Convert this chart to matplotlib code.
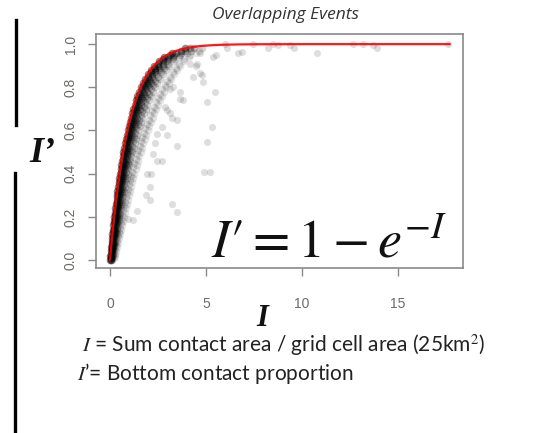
import numpy as np
import matplotlib
matplotlib.use("Agg")
import matplotlib.pyplot as plt

nan = float("nan")
# dense band: one I' level per row, several I values per level
band_Ip = [0.00, 0.02, 0.04, 0.06, 0.08, 0.10, 0.12, 0.14, 0.16, 0.18,
           0.20, 0.22, 0.24, 0.26, 0.28, 0.30, 0.32, 0.34, 0.36, 0.38,
           0.40, 0.42, 0.44, 0.46, 0.48, 0.50, 0.52, 0.54, 0.56, 0.58,
           0.60, 0.62, 0.64, 0.66, 0.68, 0.70, 0.72, 0.74, 0.76, 0.78,
           0.80, 0.82, 0.84, 0.86, 0.88, 0.90, 0.92, 0.94, 0.96, 0.98]
band_I0 = [0.00, 0.02, 0.04, 0.07, 0.09, 0.11, 0.13, 0.16, 0.18, 0.20,
           0.23, 0.25, 0.28, 0.31, 0.34, 0.36, 0.39, 0.42, 0.45, 0.48,
           0.52, 0.55, 0.59, 0.62, 0.66, 0.70, 0.74, 0.78, 0.83, 0.87,
           0.92, 0.97, 1.03, 1.08, 1.14, 1.21, 1.28, 1.35, 1.43, 1.52,
           1.61, 1.72, 1.84, 1.97, 2.13, 2.31, 2.53, 2.82, 3.22, 3.92]
band_I1 = [0.03, 0.06, 0.09, 0.11, 0.14, 0.16, 0.19, 0.22, 0.24, 0.27,
           0.30, 0.33, 0.36, 0.39, 0.42, 0.45, 0.48, 0.51, 0.55, 0.58,
           0.62, 0.66, 0.70, 0.74, 0.78, 0.82, 0.87, 0.91, 0.96, 1.01,
           1.07, 1.12, 1.18, 1.24, 1.31, 1.38, 1.45, 1.53, 1.61, 1.70,
           1.80, 1.91, 2.03, 2.17, 2.33, 2.51, 2.74, 3.03, 3.44, 4.15]
band_I2 = [0.07, 0.10, 0.13, 0.16, 0.19, 0.22, 0.25, 0.28, 0.31, 0.34,
           0.37, 0.40, 0.44, 0.47, 0.51, 0.54, 0.58, 0.61, 0.65, 0.69,
           0.73, 0.77, 0.82, 0.86, 0.91, 0.95, 1.00, 1.05, 1.11, 1.16,
           1.22, 1.28, 1.35, 1.41, 1.48, 1.56, 1.64, 1.72, 1.81, 1.91,
           2.01, 2.12, 2.25, 2.39, 2.55, 2.74, 2.97, 3.26, 3.68, 4.40]
band_I3 = [0.12, 0.16, 0.20, 0.23, 0.27, 0.31, 0.35, 0.39, 0.42, 0.46,
           0.49, 0.53, 0.57, 0.61, 0.65, 0.69, 0.73, 0.78, 0.82, 0.87,
           0.92, 0.96, 1.01, 1.06, 1.12, 1.17, 1.23, 1.29, 1.35, 1.41,
           1.48, 1.55, 1.62, 1.69, 1.77, 1.86, 1.95, 2.04, 2.14, 2.24,
           2.35, 2.47, 2.60, 2.74, 2.90, 3.08, 3.31, 3.60, 4.02, 4.80]
band_I4 = [nan, 0.26, 0.30, 0.36, 0.40, 0.46, 0.52, 0.57, 0.62, 0.68,
           0.72, 0.78, 0.83, 0.88, 0.93, 0.98, 1.04, 1.09, 1.15, 1.21,
           1.27, 1.33, 1.39, 1.46, 1.52, 1.59, 1.66, 1.73, 1.81, 1.89,
           1.97, 2.05, 2.14, 2.22, 2.31, 2.40, 2.50, 2.60, 2.70, 2.81,
           2.93, 3.05, 3.18, 3.32, 3.47, 3.64, 3.85, 4.12, 4.50, nan]

# second set of band points, on the in-between I' levels
band2_Ip = [0.01, 0.03, 0.05, 0.07, 0.09, 0.11, 0.13, 0.15, 0.17, 0.19,
            0.21, 0.23, 0.25, 0.27, 0.29, 0.31, 0.33, 0.35, 0.37, 0.39,
            0.41, 0.43, 0.45, 0.47, 0.49, 0.51, 0.53, 0.55, 0.57, 0.59,
            0.61, 0.63, 0.65, 0.67, 0.69, 0.71, 0.73, 0.75, 0.77, 0.79,
            0.81, 0.83, 0.85, 0.87, 0.89, 0.91, 0.93, 0.95, 0.97]
band2_I0 = [0.03, 0.05, 0.08, 0.10, 0.13, 0.15, 0.18, 0.20, 0.22, 0.25,
            0.28, 0.31, 0.34, 0.37, 0.39, 0.42, 0.45, 0.48, 0.52, 0.55,
            0.59, 0.63, 0.66, 0.70, 0.74, 0.78, 0.83, 0.87, 0.92, 0.97,
            1.02, 1.08, 1.13, 1.19, 1.26, 1.33, 1.40, 1.48, 1.57, 1.66,
            1.76, 1.88, 2.00, 2.15, 2.32, 2.52, 2.78, 3.13, 3.68]
band2_I1 = [0.07, 0.10, 0.12, 0.15, 0.18, 0.21, 0.24, 0.26, 0.29, 0.32,
            0.35, 0.38, 0.42, 0.45, 0.48, 0.51, 0.55, 0.58, 0.62, 0.66,
            0.70, 0.74, 0.78, 0.82, 0.87, 0.91, 0.96, 1.01, 1.06, 1.12,
            1.17, 1.23, 1.30, 1.36, 1.43, 1.51, 1.59, 1.67, 1.76, 1.86,
            1.96, 2.08, 2.21, 2.36, 2.53, 2.74, 3.00, 3.35, 3.92]
band2_I2 = [0.11, 0.15, 0.18, 0.21, 0.25, 0.28, 0.32, 0.35, 0.38, 0.42,
            0.45, 0.49, 0.52, 0.56, 0.60, 0.64, 0.68, 0.72, 0.76, 0.80,
            0.85, 0.89, 0.94, 0.99, 1.04, 1.09, 1.14, 1.20, 1.26, 1.32,
            1.38, 1.45, 1.52, 1.59, 1.67, 1.75, 1.84, 1.93, 2.03, 2.13,
            2.24, 2.36, 2.50, 2.65, 2.82, 3.03, 3.29, 3.64, 4.23]
band2_I3 = [0.20, 0.24, 0.28, 0.32, 0.37, 0.42, 0.46, 0.51, 0.55, 0.59,
            0.63, 0.68, 0.73, 0.78, 0.83, 0.88, 0.93, 0.98, 1.03, 1.09,
            1.15, 1.21, 1.27, 1.33, 1.40, 1.47, 1.54, 1.61, 1.69, 1.77,
            1.85, 1.93, 2.02, 2.11, 2.20, 2.30, 2.40, 2.50, 2.61, 2.73,
            2.85, 2.98, 3.12, 3.27, 3.44, 3.62, 3.85, 4.15, 4.65]

# sparse outlying points (I, I')
out_I = [5.55, 5.47, 5.03, 4.69, 4.86, 3.82, 3.65, 3.13, 4.51, 5.30, 5.03, 2.95,
         3.21, 3.51, 5.21, 3.21, 3.47, 2.12, 2.08, 2.08, 1.42, 1.21, 2.69, 2.26,
         6.00, 6.68, 6.86, 7.45, 8.25, 8.50, 8.75, 9.40, 9.58, 10.8, 12.66, 13.2,
         13.7, 13.9, 17.6, 6.08, 5.37, 4.69, 4.50, 4.78, 3.65, 3.47, 3.13, 4.17,
         4.33, 3.28, 2.86, 2.69, 2.43, 2.34, 2.95, 2.43, 1.91, 1.86, 0.95, 4.90]
out_Ip = [0.949, 0.780, 0.730, 0.865, 0.825, 0.740, 0.747, 0.794, 0.910, 0.615, 0.546, 0.693,
          0.656, 0.527, 0.406, 0.259, 0.223, 0.399, 0.336, 0.278, 0.228, 0.186, 0.460, 0.490,
          1.000, 0.957, 0.964, 1.000, 0.980, 1.000, 0.995, 0.995, 0.980, 0.960, 1.000, 1.000,
          0.995, 0.980, 1.000, 0.980, 0.940, 0.958, 0.900, 0.856, 0.780, 0.647, 0.680, 0.910,
          0.850, 0.800, 0.710, 0.615, 0.585, 0.540, 0.577, 0.457, 0.400, 0.300, 0.190, 0.406]

x_ticks = [0, 5, 10, 15]
y_ticks = [0.0, 0.2, 0.4, 0.6, 0.8, 1.0]
y_ticklabels = ["0.0", "0.2", "0.4", "0.6", "0.8", "1.0"]
curve_max = 17.7

plt.rcParams["mathtext.fontset"] = "stix"

W, H = 538, 433
fig = plt.figure(figsize=(W / 100, H / 100), dpi=100)
ax = fig.add_axes([96 / W, 1 - 268 / H, (463 - 96) / W, (268 - 34) / H])

k = (0.0, 0.0, 0.0)
ax.scatter(out_I, out_Ip, s=26, color=k, alpha=0.13, linewidths=0)
for cols, a in [(band_I4, 0.10), (band_I3, 0.16), (band_I2, 0.24), (band_I1, 0.34), (band_I0, 0.45)]:
    ax.scatter(cols, band_Ip, s=30, color=k, alpha=a, linewidths=0)
for cols, a in [(band2_I3, 0.12), (band2_I2, 0.2), (band2_I1, 0.3), (band2_I0, 0.4)]:
    ax.scatter(cols, band2_Ip, s=30, color=k, alpha=a, linewidths=0)

xc = np.linspace(0, curve_max, 400)
ax.plot(xc, 1 - np.exp(-xc), color="#ff0000", lw=1.6, alpha=0.9, zorder=5)

ax.set_xlim(-0.73, 18.4)
ax.set_ylim(-0.037, 1.047)
ax.set_xticks(x_ticks)
ax.set_xticklabels([str(t) for t in x_ticks])
ax.set_yticks(y_ticks)
ax.set_yticklabels(y_ticklabels, rotation=90, va="center")

axcol = "#8a8a8a"
lab = "#6e6a66"
for sp in ax.spines.values():
    sp.set_color(axcol)
    sp.set_linewidth(1.2)
ax.tick_params(axis="both", colors=axcol, length=6, width=1.0, direction="out",
               labelcolor=lab, labelsize=10)
ax.tick_params(axis="x", pad=15)
ax.tick_params(axis="y", pad=7)
for t in ax.get_xticklabels() + ax.get_yticklabels():
    t.set_fontfamily("Liberation Sans")

fig.text(285 / W, 1 - 15 / H, "Overlapping Events", ha="center", va="center",
         fontsize=12.5, style="italic", color="#333333", family="Open Sans")

fig.text(447 / W, 1 - 243 / H, r"$I\prime = 1 - e^{-I}$", ha="right", va="center",
         fontsize=39, color="#111111")

fig.text(262 / W, 1 - 318 / H, "I", ha="center", va="center",
         fontsize=22, color="#111111", family="Liberation Serif",
         style="italic", weight="bold")
fig.text(42 / W, 1 - 153 / H, "I\u2019", ha="center", va="center",
         fontsize=26, color="#111111", family="Liberation Serif",
         style="italic", weight="bold")

fig.text(82 / W, 1 - 345 / H, r"$I$ = Sum contact area / grid cell area (25km$^2$)",
         ha="left", va="center", fontsize=15, color="#222222", family="Lato")
fig.text(77 / W, 1 - 373 / H, "$I$\u2019= Bottom contact proportion",
         ha="left", va="center", fontsize=15, color="#222222", family="Lato")

fig.add_artist(plt.Line2D([15.5 / W, 15.5 / W], [1 - 20 / H, 1 - 125 / H],
                          color="black", lw=2.4, transform=fig.transFigure))
fig.add_artist(plt.Line2D([15 / W, 15 / W], [1 - 173 / H, 0],
                          color="black", lw=2.4, transform=fig.transFigure))

fig.savefig("out.png", dpi=100)
